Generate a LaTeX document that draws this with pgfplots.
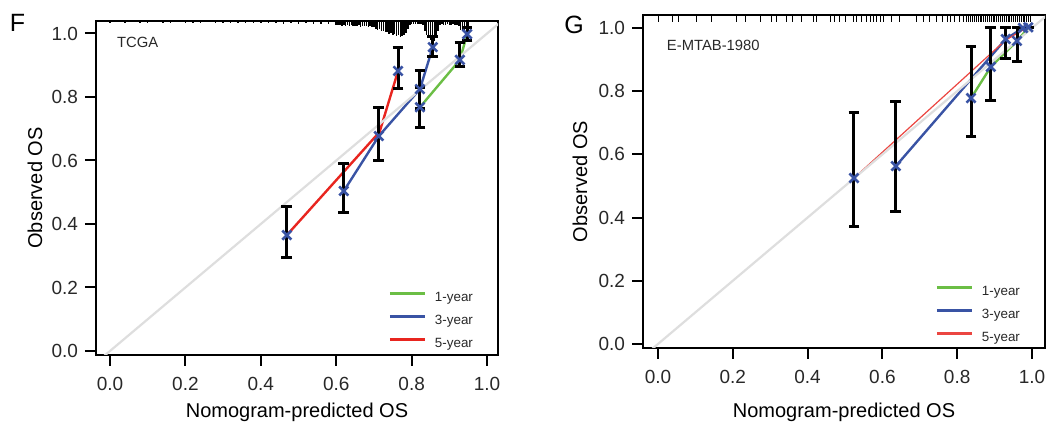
\documentclass[border=0pt]{standalone}
\usepackage{fontspec}
\setmainfont{Liberation Sans}
\usepackage{pgfplots}
\usepackage{pgfplotstable}
\pgfplotsset{compat=1.18}

\definecolor{oneyr}{RGB}{107,190,69}
\definecolor{threeyr}{RGB}{57,83,164}
\definecolor{fiveyr}{RGB}{232,37,31}
\definecolor{diag}{RGB}{222,222,222}
\definecolor{txt}{RGB}{40,40,40}

% spike histogram of predicted values, TCGA (x, depth from top edge)
\pgfplotstableread{
x d
0.00 0.005
0.02 0.004
0.04 0.005
0.06 0.004
0.08 0.005
0.10 0.005
0.12 0.004
0.14 0.005
0.16 0.005
0.18 0.004
0.20 0.006
0.22 0.005
0.24 0.005
0.26 0.004
0.28 0.006
0.30 0.005
0.32 0.005
0.34 0.006
0.36 0.005
0.38 0.006
0.40 0.006
0.42 0.007
0.44 0.006
0.46 0.008
0.48 0.007
0.50 0.008
0.52 0.007
0.54 0.009
0.56 0.008
0.58 0.010
0.600 0.012
0.605 0.014
0.610 0.012
0.615 0.015
0.620 0.013
0.625 0.016
0.630 0.014
0.635 0.016
0.640 0.013
0.645 0.017
0.650 0.015
0.655 0.016
0.660 0.014
0.665 0.018
0.670 0.016
0.675 0.017
0.680 0.015
0.685 0.018
0.690 0.016
0.695 0.019
0.700 0.020
0.705 0.024
0.710 0.028
0.715 0.026
0.720 0.032
0.725 0.030
0.730 0.036
0.735 0.034
0.740 0.040
0.745 0.038
0.750 0.044
0.755 0.040
0.760 0.046
0.765 0.044
0.770 0.050
0.775 0.048
0.780 0.045
0.785 0.038
0.790 0.025
0.795 0.012
0.800 0.010
0.805 0.009
0.810 0.011
0.815 0.010
0.820 0.009
0.825 0.011
0.830 0.012
0.835 0.030
0.840 0.045
0.845 0.055
0.850 0.060
0.855 0.058
0.860 0.062
0.865 0.050
0.870 0.030
0.875 0.012
0.880 0.011
0.885 0.013
0.890 0.012
0.895 0.011
0.900 0.013
0.905 0.012
0.910 0.011
0.915 0.013
0.920 0.012
0.925 0.015
0.930 0.028
0.935 0.030
0.940 0.032
0.945 0.028
0.950 0.020
}\histF

% rug of predicted values, E-MTAB-1980 (x, tick length)
\pgfplotstableread{
x d
0.000 0.022
0.040 0.022
0.054 0.022
0.103 0.022
0.143 0.022
0.210 0.022
0.233 0.022
0.273 0.022
0.304 0.022
0.318 0.022
0.344 0.022
0.360 0.022
0.384 0.022
0.415 0.022
0.424 0.022
0.460 0.022
0.473 0.022
0.486 0.022
0.500 0.022
0.522 0.022
0.531 0.022
0.545 0.022
0.558 0.022
0.567 0.022
0.575 0.022
0.585 0.022
0.594 0.022
0.602 0.022
0.625 0.022
0.647 0.022
0.692 0.022
0.710 0.022
0.727 0.022
0.745 0.022
0.760 0.022
0.773 0.022
0.781 0.022
0.794 0.022
0.807 0.022
0.816 0.022
0.826 0.022
0.831 0.022
0.836 0.022
0.841 0.022
0.846 0.022
0.851 0.022
0.856 0.022
0.861 0.022
0.866 0.022
0.871 0.022
0.876 0.022
0.881 0.022
0.886 0.022
0.891 0.022
0.896 0.022
0.901 0.022
0.906 0.022
0.911 0.022
0.916 0.022
0.921 0.022
0.926 0.022
0.931 0.022
0.936 0.022
0.941 0.022
0.946 0.022
0.951 0.022
0.956 0.022
0.961 0.022
0.966 0.022
0.971 0.022
0.976 0.022
0.981 0.022
0.986 0.022
0.991 0.022
0.996 0.022
}\rugG

% calibration points with error bars (x, y, plus, minus)
\pgfplotstableread{
x y ep em
0.469 0.365 0.089 0.072
0.620 0.504 0.085 0.069
0.713 0.677 0.091 0.077
0.764 0.882 0.075 0.054
0.822 0.768 0.062 0.063
0.822 0.825 0.060 0.060
0.856 0.957 0.033 0.031
0.928 0.917 0.056 0.022
0.947 0.998 0.020 0.020
}\errF

\pgfplotstableread{
x y ep em
0.524 0.525 0.209 0.152
0.636 0.563 0.203 0.145
0.837 0.778 0.162 0.120
0.890 0.877 0.123 0.105
0.930 0.965 0.035 0.063
0.960 0.959 0.041 0.064
0.976 1.000 0.000 0.000
0.990 1.002 0.000 0.000
}\errG

\pgfplotsset{
  calib/.style={
    scale only axis,
    width=201pt,
    tick align=outside,
    major tick length=5.5pt,
    tick pos=left,
    xtick={0,0.2,0.4,0.6,0.8,1},
    ytick={0,0.2,0.4,0.6,0.8,1},
    /pgf/number format/fixed,
    /pgf/number format/fixed zerofill,
    /pgf/number format/precision=1,
    /pgf/number format/assume math mode=true,
    axis line style={line width=1pt},
    every tick/.style={black, line width=1pt},
    tick label style={font=\fontsize{9.5}{11}\selectfont, text=txt},
    xticklabel style={yshift=-2pt},
    label style={font=\fontsize{9.2}{11}\selectfont, text=txt},
    xlabel={Nomogram-predicted OS},
    ylabel={Observed OS},
    legend style={draw=none, fill=none, inner sep=0pt, row sep=0pt,
      font=\fontsize{6.7}{8}\selectfont, text=txt,
      nodes={inner sep=0pt, text height=7.5pt, text depth=4pt},
      at={(0.726,0.205)}, anchor=north west},
    legend cell align=left,
    legend image code/.code={\draw[##1, line width=1.5pt] (0pt,2.4pt) -- (17.5pt,2.4pt);
      \path (22pt,2.4pt);},
  },
  spikes/.style={forget plot, draw=none, mark=none,
    error bars/.cd, y dir=minus, y explicit, error mark=none,
    error bar style={draw=black, line width=#1}},
  ebars/.style={forget plot, only marks, mark=x, mark size=3.2pt,
    mark options={threeyr, line width=1.3pt},
    error bars/.cd, y dir=both, y explicit,
    error mark=-,
    error mark options={rotate=90, draw=black, line width=1.5pt, mark size=2.7pt},
    error bar style={draw=black, line width=1.5pt}},
}

\begin{document}
\begin{tikzpicture}
\useasboundingbox (0,0) rectangle (524.5pt,213pt);

\node[font=\fontsize{12.5}{14}\selectfont] at (8.75pt,201.5pt) {F};
\node[font=\fontsize{12.5}{14}\selectfont] at (287pt,200.5pt) {G};

% ---------- F: TCGA ----------
\begin{axis}[calib,
  at={(48pt,35.5pt)}, anchor=south west,
  height=167pt,
  xmin=-0.0371, xmax=1.029, ymin=-0.0126, ymax=1.0394,
  every axis y label/.style={at={(axis description cs:-0.152,0.5)}, rotate=90, anchor=center},
  every axis x label/.style={at={(axis description cs:0.5,-0.171)}, anchor=center},
]
\addplot[spikes=0.75pt] table[x=x, y expr=1.0394, y error=d] {\histF};

\addplot[oneyr, line width=1.2pt] coordinates {(0.822,0.768) (0.928,0.917) (0.947,0.998)};
\addlegendentry{1-year}
\addplot[threeyr, line width=1.2pt] coordinates {(0.620,0.504) (0.713,0.677) (0.822,0.825) (0.856,0.957)};
\addlegendentry{3-year}
\addplot[fiveyr, line width=1.2pt] coordinates {(0.469,0.365) (0.715,0.690) (0.764,0.882)};
\addlegendentry{5-year}

\addplot[forget plot, diag, line width=1.1pt] coordinates {(-0.1,-0.1) (1.1,1.1)};
\addplot[ebars] table[x=x, y=y, y error plus=ep, y error minus=em] {\errF};

\node[anchor=west, font=\fontsize{7.4}{9}\selectfont, text=txt] at (rel axis cs:0.035,0.937) {TCGA};
\end{axis}

% ---------- G: E-MTAB-1980 ----------
\begin{axis}[calib,
  at={(321.5pt,39pt)}, anchor=south west,
  height=166.5pt,
  xmin=-0.0401, xmax=1.0348, ymin=-0.0127, ymax=1.041,
  every axis y label/.style={at={(axis description cs:-0.157,0.5)}, rotate=90, anchor=center},
  every axis x label/.style={at={(axis description cs:0.5,-0.192)}, anchor=center},
  legend style={at={(0.726,0.203)}},
]
\addplot[spikes=0.5pt] table[x=x, y expr=1.041, y error=d] {\rugG};

\addplot[oneyr, line width=1.2pt] coordinates {(0.837,0.778) (0.890,0.877) (0.960,0.959) (0.990,1.000)};
\addlegendentry{1-year}
\addplot[threeyr, line width=1.2pt] coordinates {(0.636,0.563) (0.930,0.965) (0.976,1.000)};
\addlegendentry{3-year}
\addplot[fiveyr!85, line width=0.6pt] coordinates {(0.524,0.525) (0.930,0.962) (0.985,1.000)};
\addlegendentry{5-year}

\addplot[forget plot, diag, line width=1.1pt] coordinates {(-0.1,-0.1) (1.1,1.1)};
\addplot[ebars] table[x=x, y=y, y error plus=ep, y error minus=em] {\errG};

\node[anchor=west, font=\fontsize{7.4}{9}\selectfont, text=txt] at (rel axis cs:0.042,0.91) {E-MTAB-1980};
\end{axis}
\end{tikzpicture}
\end{document}
